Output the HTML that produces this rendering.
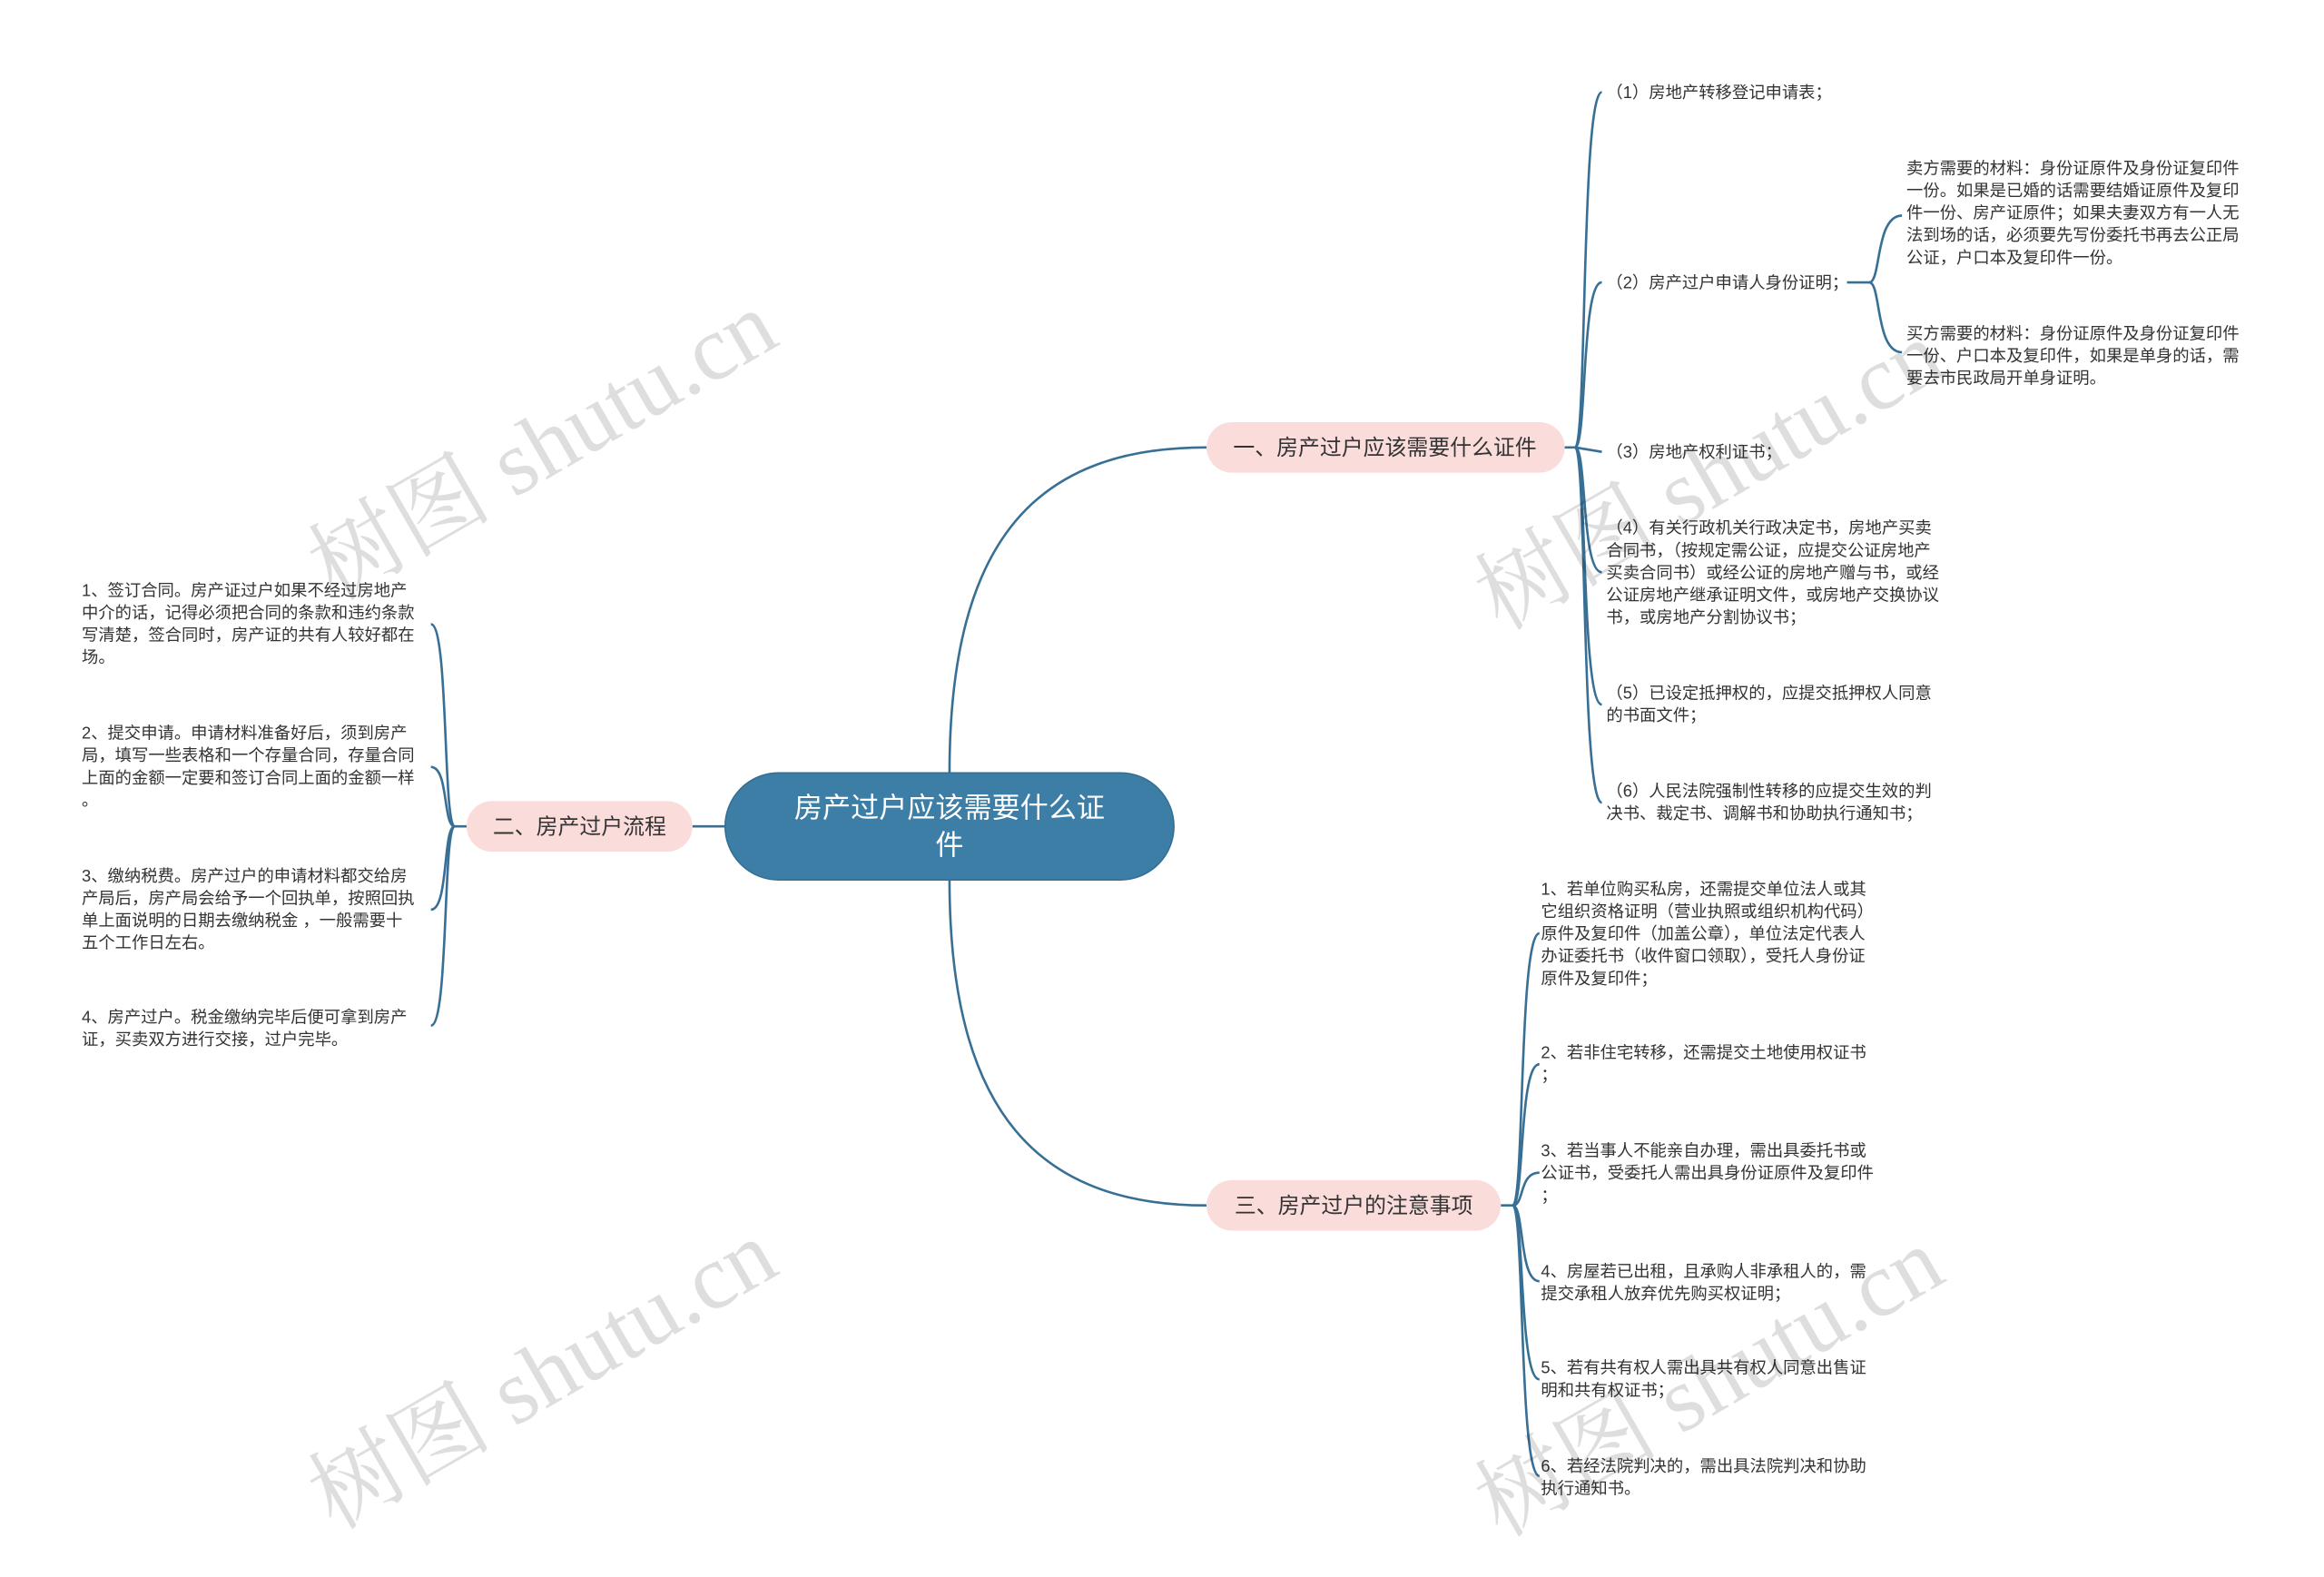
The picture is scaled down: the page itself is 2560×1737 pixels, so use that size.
<!DOCTYPE html>
<html><head><meta charset="utf-8"><style>
html,body{margin:0;padding:0;background:#fff;}
svg{display:block;}
text{font-family:"Liberation Sans","Noto Sans CJK SC",sans-serif;}
.t{font-size:11.2px;fill:#333;}
.wm{font-family:"Liberation Serif","Noto Serif CJK SC",serif;font-size:62px;fill:#000;fill-opacity:0.13;}
</style></head><body>
<svg width="2560" height="1737" viewBox="0 0 1564 1061" preserveAspectRatio="none" xmlns="http://www.w3.org/2000/svg">
<rect width="1564" height="1061" fill="#fff"/>
<g fill="none" stroke="#386f95" stroke-width="1.6">
<path d="M639,520 C639,360 700,301 812,301"/>
<path d="M639,592 C639,750 700,811 812,811"/>
<path d="M488,556 L466,556"/>
<path d="M1053,301 L1060,301 C1068,301 1064,62 1078,62"/>
<path d="M1060,301 C1068,301 1064,190 1078,190"/>
<path d="M1060,301 L1078,304"/>
<path d="M1060,301 C1068,301 1064,385 1078,385"/>
<path d="M1060,301 C1068,301 1064,474 1078,474"/>
<path d="M1060,301 C1068,301 1064,540 1078,540"/>
<path d="M1243,190 L1258,190 C1266,190 1262,145 1280,145"/>
<path d="M1258,190 C1266,190 1262,237 1280,237"/>
<path d="M314,556 L306,556 C298,556 302,420 290,420"/>
<path d="M306,556 C298,556 302,516 290,516"/>
<path d="M306,556 C298,556 302,612 290,612"/>
<path d="M306,556 C298,556 302,690 290,690"/>
<path d="M1010,811 L1018,811 C1026,811 1022,628 1036,628"/>
<path d="M1018,811 C1026,811 1022,716 1036,716"/>
<path d="M1018,811 C1026,811 1022,789 1036,789"/>
<path d="M1018,811 C1026,811 1022,862 1036,862"/>
<path d="M1018,811 C1026,811 1022,928 1036,928"/>
<path d="M1018,811 C1026,811 1022,993 1036,993"/>
</g>
<rect x="488" y="520" width="302" height="72" rx="36" fill="#3d7ea6" stroke="#356f95" stroke-width="1"/>
<text x="639" y="550" text-anchor="middle" font-size="19" fill="#fff">房产过户应该需要什么证</text>
<text x="639" y="575" text-anchor="middle" font-size="19" fill="#fff">件</text>
<rect x="812" y="284" width="241" height="34" rx="17" fill="#fadcdb"/>
<text x="932" y="306" text-anchor="middle" font-size="14.6" fill="#333">一、房产过户应该需要什么证件</text>
<rect x="314" y="539" width="152" height="34" rx="17" fill="#fadcdb"/>
<text x="390" y="561" text-anchor="middle" font-size="14.6" fill="#333">二、房产过户流程</text>
<rect x="812" y="794" width="198" height="34" rx="17" fill="#fadcdb"/>
<text x="911" y="816" text-anchor="middle" font-size="14.6" fill="#333">三、房产过户的注意事项</text>
<g class="t">
<text x="1081" y="66">（1）房地产转移登记申请表；</text>
<text x="1081" y="194">（2）房产过户申请人身份证明；</text>
<text x="1081" y="308">（3）房地产权利证书；</text>
<text x="1081" y="359">（4）有关行政机关行政决定书，房地产买卖</text>
<text x="1081" y="374">合同书，（按规定需公证，应提交公证房地产</text>
<text x="1081" y="389">买卖合同书）或经公证的房地产赠与书，或经</text>
<text x="1081" y="404">公证房地产继承证明文件，或房地产交换协议</text>
<text x="1081" y="419">书，或房地产分割协议书；</text>
<text x="1081" y="470">（5）已设定抵押权的，应提交抵押权人同意</text>
<text x="1081" y="485">的书面文件；</text>
<text x="1081" y="536">（6）人民法院强制性转移的应提交生效的判</text>
<text x="1081" y="551">决书、裁定书、调解书和协助执行通知书；</text>
<text x="1283" y="117">卖方需要的材料：身份证原件及身份证复印件</text>
<text x="1283" y="132">一份。如果是已婚的话需要结婚证原件及复印</text>
<text x="1283" y="147">件一份、房产证原件；如果夫妻双方有一人无</text>
<text x="1283" y="162">法到场的话，必须要先写份委托书再去公正局</text>
<text x="1283" y="177">公证，户口本及复印件一份。</text>
<text x="1283" y="228">买方需要的材料：身份证原件及身份证复印件</text>
<text x="1283" y="243">一份、户口本及复印件，如果是单身的话，需</text>
<text x="1283" y="258">要去市民政局开单身证明。</text>
<text x="55" y="401">1、签订合同。房产证过户如果不经过房地产</text>
<text x="55" y="416">中介的话，记得必须把合同的条款和违约条款</text>
<text x="55" y="431">写清楚，签合同时，房产证的共有人较好都在</text>
<text x="55" y="446">场。</text>
<text x="55" y="497">2、提交申请。申请材料准备好后，须到房产</text>
<text x="55" y="512">局，填写一些表格和一个存量合同，存量合同</text>
<text x="55" y="527">上面的金额一定要和签订合同上面的金额一样</text>
<text x="55" y="542">。</text>
<text x="55" y="593">3、缴纳税费。房产过户的申请材料都交给房</text>
<text x="55" y="608">产局后，房产局会给予一个回执单，按照回执</text>
<text x="55" y="623">单上面说明的日期去缴纳税金 ，一般需要十</text>
<text x="55" y="638">五个工作日左右。</text>
<text x="55" y="688">4、房产过户。税金缴纳完毕后便可拿到房产</text>
<text x="55" y="703">证，买卖双方进行交接，过户完毕。</text>
<text x="1037" y="602">1、若单位购买私房，还需提交单位法人或其</text>
<text x="1037" y="617">它组织资格证明（营业执照或组织机构代码）</text>
<text x="1037" y="632">原件及复印件（加盖公章），单位法定代表人</text>
<text x="1037" y="647">办证委托书（收件窗口领取），受托人身份证</text>
<text x="1037" y="662">原件及复印件；</text>
<text x="1037" y="712">2、若非住宅转移，还需提交土地使用权证书</text>
<text x="1037" y="727">；</text>
<text x="1037" y="778">3、若当事人不能亲自办理，需出具委托书或</text>
<text x="1037" y="793">公证书，受委托人需出具身份证原件及复印件</text>
<text x="1037" y="808">；</text>
<text x="1037" y="859">4、房屋若已出租，且承购人非承租人的，需</text>
<text x="1037" y="874">提交承租人放弃优先购买权证明；</text>
<text x="1037" y="924">5、若有共有权人需出具共有权人同意出售证</text>
<text x="1037" y="939">明和共有权证书；</text>
<text x="1037" y="990">6、若经法院判决的，需出具法院判决和协助</text>
<text x="1037" y="1005">执行通知书。</text>
</g>
<text class="wm" transform="translate(225,405) rotate(-30)">树图 shutu.cn</text>
<text class="wm" transform="translate(225,1030) rotate(-30)">树图 shutu.cn</text>
<text class="wm" transform="translate(1010,425) rotate(-30)">树图 shutu.cn</text>
<text class="wm" transform="translate(1010,1035) rotate(-30)">树图 shutu.cn</text>
</svg>
</body></html>
